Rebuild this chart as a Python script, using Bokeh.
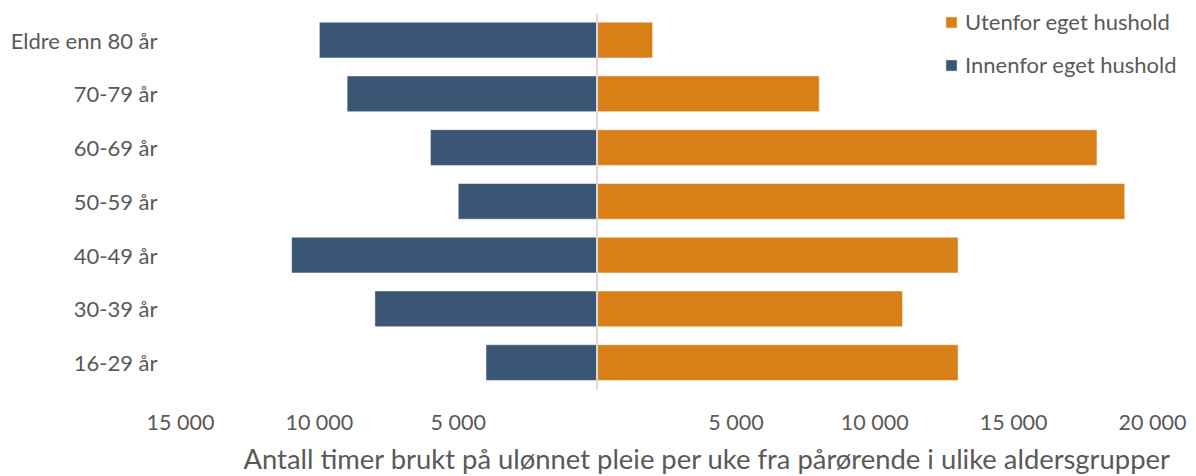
from bokeh.plotting import figure
from bokeh.models import Range1d, FixedTicker, Legend, LegendItem, ColumnDataSource, Title
from bokeh.embed import file_html
from bokeh.resources import INLINE

categories = ["Eldre enn 80 år", "70-79 år", "60-69 år", "50-59 år", "40-49 år", "30-39 år", "16-29 år"]
innenfor = [10000, 9000, 6000, 5000, 11000, 8000, 4000]
utenfor = [2000, 8000, 18000, 19000, 13000, 11000, 13000]
tick_values = [-15000, -10000, -5000, 5000, 10000, 15000, 20000]
tick_labels = ["15 000", "10 000", "5 000", "5 000", "10 000", "15 000", "20 000"]
x_title = "Antall timer brukt på ulønnet pleie per uke fra pårørende i ulike aldersgrupper"
series_names = ["Utenfor eget hushold", "Innenfor eget hushold"]

BLUE = "#3B5574"
ORANGE = "#D97F18"
TXT = "#595959"
FONT = "Lato"

n = len(categories)
ypos = [n - 1 - i for i in range(n)]  # first category at top

src = ColumnDataSource(dict(
    y=ypos,
    neg=[-v for v in innenfor],
    pos=utenfor,
    zero=[0] * n,
))

# frame spans 180..1196 px; axis -15000..20000 occupies 180..1152 px
x_end = -15000 + 35000 * (1196 - 180) / (1152 - 180)
# frame spans 0..393 px vertically; category bands occupy 13..393 px
band_px = (393.2 - 12.8) / n
y_end = n - 0.5 + 12.8 / band_px

p = figure(
    width=1196, height=476,
    y_range=Range1d(-0.5, y_end),
    x_range=Range1d(-15000, x_end),
    output_backend="svg", toolbar_location=None,
    min_border_left=180, min_border_right=0, min_border_top=0, min_border_bottom=83,
)

r_in = p.hbar(y="y", left="neg", right="zero", height=0.665, source=src,
              fill_color=BLUE, line_color="white", line_width=1, line_alpha=0.5)
r_out = p.hbar(y="y", left="zero", right="pos", height=0.665, source=src,
               fill_color=ORANGE, line_color="white", line_width=1, line_alpha=0.5)

# zero line across the category bands
p.segment(x0=[0], y0=[-0.5], x1=[0], y1=[n - 0.5], line_color="#D9D9D9", line_width=2)

p.xgrid.visible = False
p.ygrid.visible = False
p.outline_line_color = None

xa = p.xaxis[0]
xa.ticker = FixedTicker(ticks=tick_values)
xa.major_label_overrides = {v: l for v, l in zip(tick_values, tick_labels)}
xa.axis_line_color = None
xa.major_tick_line_color = None
xa.minor_tick_line_color = None
xa.major_tick_out = 0
xa.major_tick_in = 0
xa.major_label_standoff = 19
xa.major_label_text_font = FONT
xa.major_label_text_font_size = "21.5px"
xa.major_label_text_color = TXT

ya = p.yaxis[0]
ya.ticker = FixedTicker(ticks=ypos)
ya.major_label_overrides = {y: c for y, c in zip(ypos, categories)}
ya.axis_line_color = None
ya.major_tick_line_color = None
ya.minor_tick_line_color = None
ya.major_tick_out = 0
ya.major_tick_in = 0
ya.major_label_standoff = 23
ya.major_label_text_font = FONT
ya.major_label_text_font_size = "22px"
ya.major_label_text_color = TXT

p.add_layout(Title(text=x_title, align="left", offset=63, standoff=4,
                   text_font=FONT, text_font_size="27.4px", text_font_style="normal",
                   text_color=TXT), "below")

legend = Legend(
    items=[LegendItem(label=series_names[0], renderers=[r_out]),
           LegendItem(label=series_names[1], renderers=[r_in])],
    location=(764, 311),
    orientation="vertical",
    glyph_width=14, glyph_height=14,
    label_height=20, spacing=16, padding=0, margin=0,
    label_standoff=7,
    label_text_font=FONT, label_text_font_size="22px", label_text_color=TXT,
    border_line_color=None, background_fill_alpha=0,
)
p.add_layout(legend)

open("out.html", "w").write(file_html(p, INLINE))
